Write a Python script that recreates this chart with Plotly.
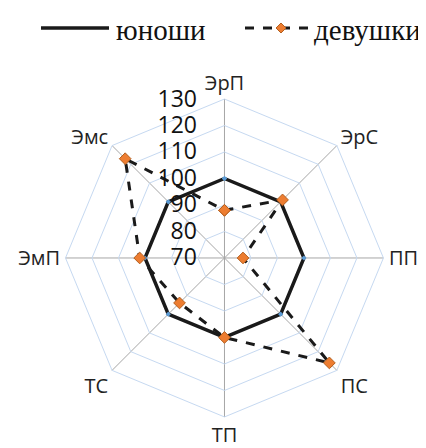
import plotly.graph_objects as go

categories = ["ЭрП", "ЭрС", "ПП", "ПС", "ТП", "ТС", "ЭмП", "Эмс"]
boys = [100, 100, 100, 100, 100, 100, 100, 100]
girls = [88, 101, 77, 126, 100, 94, 102, 123]
radial_ticks = [70, 80, 90, 100, 110, 120, 130]

cats_closed = categories + [categories[0]]

fig = go.Figure()
fig.add_trace(go.Scatterpolar(
    r=boys + [boys[0]], theta=cats_closed, name="юноши", mode="lines+markers",
    line=dict(color="#1a1a1a", width=3.5),
    marker=dict(size=4, color="#5B9BD5", symbol="diamond"),
    showlegend=False,
))
fig.add_trace(go.Scatterpolar(
    r=girls + [girls[0]], theta=cats_closed, name="девушки", mode="lines+markers",
    line=dict(color="#1a1a1a", width=3, dash="dash"),
    marker=dict(size=9, color="#ED7D31", symbol="diamond",
                line=dict(color="#B35F1F", width=1)),
    showlegend=False,
))

# manual legend (paper coordinates)
W, H = 426, 448
def px(x): return x / W
def py(y): return 1 - y / H
ly = 20
fig.add_shape(type="line", xref="paper", yref="paper", x0=px(33), x1=px(101), y0=py(ly), y1=py(ly),
              line=dict(color="#1a1a1a", width=3.5))
fig.add_shape(type="line", xref="paper", yref="paper", x0=px(237), x1=px(307), y0=py(ly), y1=py(ly),
              line=dict(color="#1a1a1a", width=3, dash="dash"))
fig.add_shape(type="path", xref="paper", yref="paper",
              path=f"M {px(273)} {py(ly-5)} L {px(278)} {py(ly)} L {px(273)} {py(ly+5)} L {px(268)} {py(ly)} Z",
              fillcolor="#ED7D31", line=dict(color="#B35F1F", width=1))
fig.add_annotation(xref="paper", yref="paper", x=px(106), y=py(ly + 2), text="юноши", showarrow=False,
                   xanchor="left", yanchor="middle",
                   font=dict(family="Liberation Serif", size=29, color="#111"))
fig.add_annotation(xref="paper", yref="paper", x=px(304), y=py(ly + 2), text="девушки", showarrow=False,
                   xanchor="left", yanchor="middle",
                   font=dict(family="Liberation Serif", size=29, color="#111"))

fig.update_layout(
    width=W, height=H,
    paper_bgcolor="white",
    margin=dict(l=0, r=0, t=0, b=0),
    font=dict(family="Open Sans", color="#222"),
    showlegend=False,
    polar=dict(
        domain=dict(x=[0.1350, 0.8813], y=[0.0871, 0.7969]),
        bgcolor="white",
        gridshape="linear",
        angularaxis=dict(direction="clockwise", rotation=90,
                         categoryarray=categories, categoryorder="array",
                         showline=True, linecolor="#C6D9F1", linewidth=1,
                         gridcolor="#A6A6A6", gridwidth=1,
                         ticks="outside", ticklen=1, tickcolor="rgba(0,0,0,0)",
                         tickfont=dict(size=20, family="Open Sans", color="#222")),
        radialaxis=dict(range=[70, 130], tickvals=radial_ticks, angle=90,
                        side="counterclockwise",
                        showline=False, gridcolor="#C6D9F1", gridwidth=1,
                        ticks="outside", ticklen=19, tickcolor="rgba(0,0,0,0)",
                        tickangle=90,
                        tickfont=dict(size=23, family="Open Sans", color="#111")),
    ),
)

fig.write_html("out.html")
